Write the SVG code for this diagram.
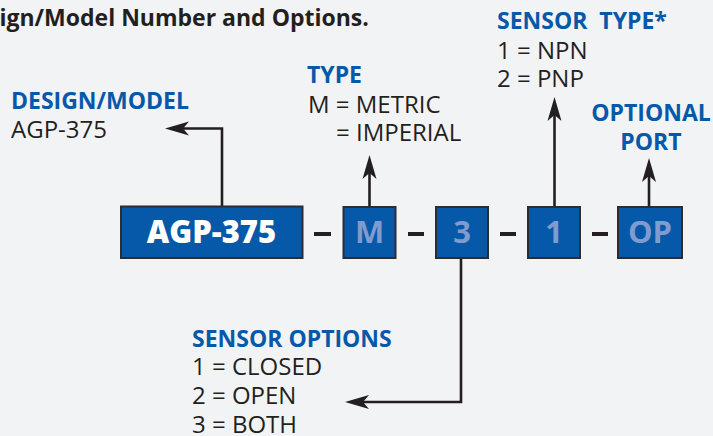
<svg xmlns="http://www.w3.org/2000/svg" width="713" height="436" viewBox="0 0 713 436">
<style>
text{font-family:"Open Sans","Noto Sans","Liberation Sans",sans-serif;font-size:24px;fill:#231f20}
.h{font-weight:700;fill:#0659a8;font-size:23px}
.t{font-weight:700;fill:#231f20;font-size:23px}
.b{fill:#0659a8;stroke:#2b2d33;stroke-width:2}
.l{font-weight:700;font-size:31px;text-anchor:middle;fill:#7f9bd0}
.w{font-weight:800;font-size:31px;text-anchor:middle;fill:#fff}
.c{fill:none;stroke:#231f20;stroke-width:2.6}
.d{fill:none;stroke:#231f20;stroke-width:3.8}
</style>
<defs><path id="ah" d="M0 0L-24 -7L-18 0L-24 7Z" fill="#231f20"/></defs>
<rect width="713" height="436" fill="#f2f3f5"/>
<text class="t" x="-12" y="26">sign/Model Number and Options.</text>
<g id="connectors">
<path class="c" d="M222 206V128.500H182"/><use href="#ah" transform="translate(165 128.500) rotate(180)"/>
<path class="c" d="M369.500 207V172"/><use href="#ah" transform="translate(369.500 155) rotate(-90)"/>
<path class="c" d="M554.500 207V114"/><use href="#ah" transform="translate(554.500 97) rotate(-90)"/>
<path class="c" d="M649 207V175"/><use href="#ah" transform="translate(649 158) rotate(-90)"/>
<path class="c" d="M461 258V402H362"/><use href="#ah" transform="translate(345 402) rotate(180)"/>
<path class="d" d="M314 234H331M408 234H424M500 234H516M592 234H608"/>
</g>
<g id="design-box"><rect class="b" x="121" y="206.500" width="181.500" height="51.500"/><text class="w" x="211.500" y="243">AGP-375</text></g>
<g id="m-box"><rect class="b" x="343.500" y="207" width="52" height="51"/><text class="l" x="369.500" y="243">M</text></g>
<g id="three-box"><rect class="b" x="436" y="207" width="52" height="51"/><text class="l" x="462" y="243">3</text></g>
<g id="one-box"><rect class="b" x="528" y="207" width="52" height="51"/><text class="l" x="554" y="243">1</text></g>
<g id="op-box"><rect class="b" x="618" y="207" width="64" height="51"/><text class="l" x="650" y="243">OP</text></g>
<g id="design-label"><text class="h" x="11" y="109">DESIGN/MODEL</text><text x="11" y="138">AGP-375</text></g>
<g id="type-label"><text class="h" x="307" y="83">TYPE</text><text x="308" y="113">M = METRIC</text><text x="336" y="141">= IMPERIAL</text></g>
<g id="sensor-type-label"><text class="h" x="497" y="29" xml:space="preserve">SENSOR  TYPE*</text><text x="497" y="59">1 = NPN</text><text x="497" y="87">2 = PNP</text></g>
<g id="port-label"><text class="h" x="651" y="121" text-anchor="middle">OPTIONAL</text><text class="h" x="651" y="150" text-anchor="middle">PORT</text></g>
<g id="sensor-options-label"><text class="h" x="192" y="347">SENSOR OPTIONS</text><text x="192" y="375">1 = CLOSED</text><text x="192" y="404">2 = OPEN</text><text x="192" y="433">3 = BOTH</text></g>
</svg>
